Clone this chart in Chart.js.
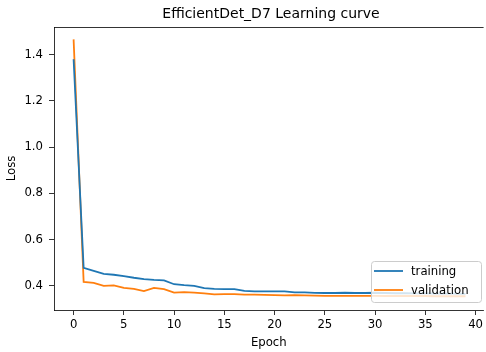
<!DOCTYPE html>
<html>
<head>
<meta charset="utf-8">
<script src="https://cdn.jsdelivr.net/npm/chart.js@4/dist/chart.umd.min.js"></script>
<style>
  html, body { margin: 0; padding: 0; background: #fff; }
  #wrap { width: 486px; height: 352px; }
</style>
</head>
<body>
<div id="wrap"><canvas id="chart" width="486" height="352"></canvas></div>
<script>
  // Loss per epoch
  const epochs = Array.from({ length: 40 }, (_, i) => i);
  const trainingLoss = [1.38, 0.478, 0.465, 0.452, 0.448, 0.442, 0.435, 0.429, 0.426, 0.424,
    0.407, 0.403, 0.400, 0.390, 0.387, 0.386, 0.386, 0.378, 0.376, 0.376,
    0.376, 0.376, 0.372, 0.372, 0.370, 0.369, 0.369, 0.370, 0.369, 0.369,
    0.370, 0.369, 0.368, 0.368, 0.367, 0.367, 0.366, 0.366, 0.366, 0.365];
  const validationLoss = [1.466, 0.417, 0.413, 0.400, 0.402, 0.391, 0.387, 0.377, 0.391, 0.386,
    0.371, 0.373, 0.371, 0.367, 0.363, 0.364, 0.364, 0.362, 0.362, 0.361,
    0.360, 0.359, 0.360, 0.359, 0.358, 0.357, 0.357, 0.357, 0.357, 0.357,
    0.357, 0.356, 0.356, 0.356, 0.356, 0.356, 0.355, 0.355, 0.355, 0.355];
  const xTicks = [0, 5, 10, 15, 20, 25, 30, 35, 40];
  const yTicks = [0.4, 0.6, 0.8, 1.0, 1.2, 1.4];
  const seriesNames = ['training', 'validation'];
  const titleText = 'EfficientDet_D7 Learning curve';

  const colors = { training: '#1f77b4', validation: '#ff7f0e' };
  const font = 'DejaVu Sans';
  const fs = 11.7;
  const lw = 1.8;

  // top spine, title and the in-plot legend (matplotlib style)
  const mplDecor = {
    id: 'mplDecor',
    afterDraw(chart) {
      const { ctx, chartArea: a } = chart;
      ctx.save();
      ctx.strokeStyle = '#000';
      ctx.lineWidth = 0.8;
      ctx.beginPath();
      ctx.moveTo(a.left, a.top + 0.5);
      ctx.lineTo(a.right, a.top + 0.5);
      ctx.stroke();

      ctx.fillStyle = '#000';
      ctx.font = '14px "' + font + '"';
      ctx.textAlign = 'center';
      ctx.textBaseline = 'middle';
      ctx.fillText(titleText, 271, 14);

      // legend box, lower right
      const bx = 371, by = 261, bw = 110, bh = 41, r = 3;
      ctx.beginPath();
      ctx.roundRect(bx + 0.5, by + 0.5, bw, bh, r);
      ctx.fillStyle = 'rgba(255,255,255,0.8)';
      ctx.fill();
      ctx.strokeStyle = '#cccccc';
      ctx.lineWidth = 1;
      ctx.stroke();

      ctx.font = fs + 'px "' + font + '"';
      ctx.textAlign = 'left';
      seriesNames.forEach((name, i) => {
        const y = by + 10 + i * 19;
        ctx.strokeStyle = colors[name];
        ctx.lineWidth = lw;
        ctx.beginPath();
        ctx.moveTo(bx + 3, y);
        ctx.lineTo(bx + 32, y);
        ctx.stroke();
        ctx.fillStyle = '#000';
        ctx.fillText(name, bx + 40, y + 1);
      });
      ctx.restore();
    }
  };

  const tickFont = { family: font, size: fs };

  new Chart(document.getElementById('chart'), {
    type: 'line',
    data: {
      datasets: [
        { label: seriesNames[0], data: epochs.map((e, i) => ({ x: e, y: trainingLoss[i] })),
          borderColor: colors.training, borderWidth: lw, pointRadius: 0, tension: 0 },
        { label: seriesNames[1], data: epochs.map((e, i) => ({ x: e, y: validationLoss[i] })),
          borderColor: colors.validation, borderWidth: lw, pointRadius: 0, tension: 0 }
      ]
    },
    options: {
      responsive: false,
      animation: false,
      layout: { padding: { top: 27, right: 0, left: 0, bottom: 0 } },
      plugins: { legend: { display: false }, title: { display: false }, tooltip: { enabled: false } },
      scales: {
        x: {
          type: 'linear',
          min: -1.95, max: 40.8,
          afterBuildTicks: s => { s.ticks = xTicks.map(v => ({ value: v })); },
          afterFit: s => { s.height = 42; },
          grid: { drawOnChartArea: false, drawTicks: true, tickLength: 5, color: '#000', lineWidth: 0.8 },
          border: { display: true, color: '#000', width: 0.8 },
          ticks: { font: tickFont, color: '#000', padding: 3, maxRotation: 0 },
          title: { display: true, text: 'Epoch', font: tickFont, color: '#000', padding: { top: 0, bottom: 2 } }
        },
        y: {
          min: 0.2955, max: 1.5195,
          afterBuildTicks: s => { s.ticks = yTicks.map(v => ({ value: v })); },
          afterFit: s => { s.width = 54; },
          grid: { drawOnChartArea: false, drawTicks: true, tickLength: 5, color: '#000', lineWidth: 0.8 },
          border: { display: true, color: '#000', width: 0.8 },
          ticks: { font: tickFont, color: '#000', padding: 6, callback: v => v.toFixed(1) },
          title: { display: true, text: 'Loss', font: tickFont, color: '#000', padding: { top: 5, bottom: 0 } }
        }
      }
    },
    plugins: [mplDecor]
  });
</script>
</body>
</html>
